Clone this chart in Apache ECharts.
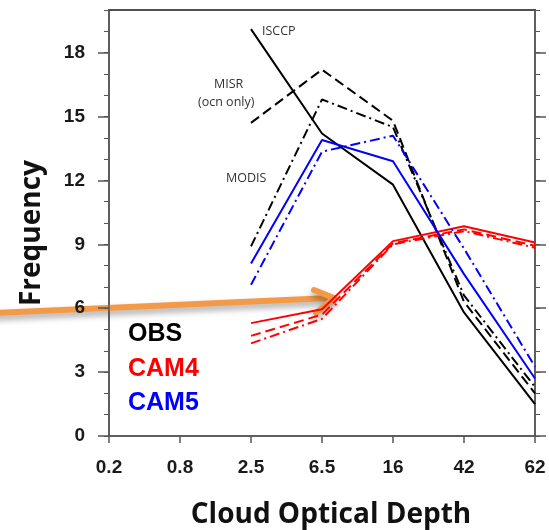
<!DOCTYPE html>
<html>
<head>
<meta charset="utf-8">
<script src="https://cdn.jsdelivr.net/npm/echarts@6/dist/echarts.min.js"></script>
<style>
  html, body { margin: 0; padding: 0; background: #fff; }
  #chart { width: 549px; height: 530px; }
</style>
</head>
<body>
<div id="chart"></div>
<script>
  // optical depth bins
  var categories = ['0.2', '0.8', '2.5', '6.5', '16', '42', '62'];

  // OBS
  var isccp = [null, null, 19.1, 14.2, 11.8, 5.8, 1.5];
  var misr = [null, null, 14.7, 17.2, 14.8, 6.3, 2.0];
  var modis = [null, null, 8.9, 15.8, 14.5, 6.6, 2.3];
  // CAM4 (simulators)
  var cam4Isccp = [null, null, 5.3, 5.95, 9.15, 9.85, 9.08];
  var cam4Misr = [null, null, 4.7, 5.7, 9.05, 9.7, 8.93];
  var cam4Modis = [null, null, 4.35, 5.5, 9.0, 9.62, 8.84];
  // CAM5
  var cam5Isccp = [null, null, 8.1, 13.9, 12.9, 7.6, 2.7];
  var cam5Modis = [null, null, 7.1, 13.35, 14.1, 8.8, 3.25];

  var yMinorTicks = [0, 20, 1];
  var yMajorTicks = [0, 18, 3];

  var axisColor = '#555';
  var dash = [10, 5];
  var dashDot = [10, 4, 2, 4];
  var tickFont = { color: '#1a1a1a', fontSize: 19, fontWeight: 'bold', fontFamily: 'Liberation Sans' };

  function titleFont(padding) {
    return { color: '#111', fontSize: 28, fontWeight: 'bold', fontFamily: 'Open Sans', padding: padding };
  }

  function line(name, data, color, type) {
    return {
      name: name,
      type: 'line',
      data: data,
      symbol: 'none',
      silent: true,
      lineStyle: { color: color, width: 2, type: type }
    };
  }

  function note(text, x, y) {
    return { type: 'text', x: x, y: y, style: { text: text, fontSize: 12.5, fill: '#333', fontFamily: 'Open Sans', align: 'left', verticalAlign: 'middle' } };
  }

  function legendText(text, y, color) {
    return { type: 'text', x: 128, y: y, style: { text: text, fontSize: 25, fontWeight: 'bold', fill: color, fontFamily: 'Liberation Sans', align: 'left', verticalAlign: 'middle' } };
  }

  var arrowStyle = { stroke: '#f39a48', lineWidth: 6, lineCap: 'round', lineJoin: 'round', fill: null, shadowBlur: 6, shadowOffsetY: 4, shadowColor: 'rgba(0,0,0,0.35)' };

  var myChart = echarts.init(document.getElementById('chart'));
  myChart.setOption({
    animation: false,
    grid: [
      { left: 109, right: 14, top: 10, bottom: 94, outerBoundsMode: 'none', show: true, borderWidth: 1.5, borderColor: axisColor },
      { left: 109, right: 14, top: 52.6, bottom: 94, outerBoundsMode: 'none' }
    ],
    xAxis: [
      {
        gridIndex: 0,
        type: 'category',
        data: categories,
        boundaryGap: false,
        axisLine: { lineStyle: { color: axisColor, width: 1.5 } },
        axisTick: { length: 7, lineStyle: { color: axisColor, width: 1.5 } },
        axisLabel: Object.assign({ margin: 22 }, tickFont),
        splitLine: { show: false },
        name: 'Cloud Optical Depth',
        nameLocation: 'middle',
        nameGap: 65,
        nameTextStyle: titleFont([0, 0, 0, 18])
      },
      {
        gridIndex: 0,
        type: 'category',
        data: categories,
        boundaryGap: false,
        position: 'top',
        axisLine: { show: true, onZero: false, lineStyle: { color: '#444', width: 2 } },
        axisTick: { show: false },
        axisLabel: { show: false },
        splitLine: { show: false }
      },
      { gridIndex: 1, type: 'category', data: categories, boundaryGap: false, show: false }
    ],
    yAxis: [
      {
        gridIndex: 0,
        type: 'value',
        min: yMinorTicks[0], max: yMinorTicks[1], interval: yMinorTicks[2],
        axisLine: { show: true, lineStyle: { color: axisColor, width: 1.5 } },
        axisTick: { show: true, length: 5, lineStyle: { color: axisColor } },
        axisLabel: Object.assign({
          margin: 24,
          formatter: function (v) { return (v % 3 === 0 && v < 20) ? String(v) : ''; }
        }, tickFont),
        splitLine: { show: false },
        name: 'Frequency',
        nameLocation: 'middle',
        nameGap: 63,
        nameTextStyle: titleFont([0, 20, 0, 0])
      },
      {
        gridIndex: 1,
        type: 'value',
        min: yMajorTicks[0], max: yMajorTicks[1], interval: yMajorTicks[2],
        axisLine: { show: false },
        axisTick: { show: true, length: 11, lineStyle: { color: axisColor, width: 1.5 } },
        axisLabel: { show: false },
        splitLine: { show: false }
      },
      {
        gridIndex: 0,
        type: 'value',
        position: 'right',
        min: yMinorTicks[0], max: yMinorTicks[1], interval: yMinorTicks[2],
        axisLine: { show: true, lineStyle: { color: axisColor, width: 1.5 } },
        axisTick: { show: true, length: 5, lineStyle: { color: axisColor } },
        axisLabel: { show: false },
        splitLine: { show: false }
      },
      {
        gridIndex: 1,
        type: 'value',
        position: 'right',
        min: yMajorTicks[0], max: yMajorTicks[1], interval: yMajorTicks[2],
        axisLine: { show: false },
        axisTick: { show: true, length: 11, lineStyle: { color: axisColor, width: 1.5 } },
        axisLabel: { show: false },
        splitLine: { show: false }
      }
    ],
    series: [
      line('ISCCP', isccp, '#000', 'solid'),
      line('MISR', misr, '#000', dash),
      line('MODIS', modis, '#000', dashDot),
      line('CAM4 ISCCP', cam4Isccp, '#ff0000', 'solid'),
      line('CAM4 MISR', cam4Misr, '#ff0000', dash),
      line('CAM4 MODIS', cam4Modis, '#ff0000', dashDot),
      line('CAM5 ISCCP', cam5Isccp, '#0000ff', 'solid'),
      line('CAM5 MODIS', cam5Modis, '#0000ff', dashDot)
    ],
    graphic: [
      // plot frame, top edge
      { type: 'line', z: 100, shape: { x1: 109, y1: 10, x2: 535, y2: 10 }, style: { stroke: axisColor, lineWidth: 1.5 } },
      note('ISCCP', 262, 31),
      note('MISR', 214, 84),
      note('(ocn only)', 198, 102),
      note('MODIS', 226, 178),
      legendText('OBS', 334, '#000'),
      legendText('CAM4', 369, '#ff0000'),
      legendText('CAM5', 403, '#0000ff'),
      {
        type: 'group',
        children: [
          { type: 'polyline', shape: { points: [[-5, 313], [331, 298]] }, style: arrowStyle },
          { type: 'polyline', shape: { points: [[314, 290], [334, 298], [316, 313]] }, style: arrowStyle }
        ]
      }
    ]
  });
</script>
</body>
</html>
